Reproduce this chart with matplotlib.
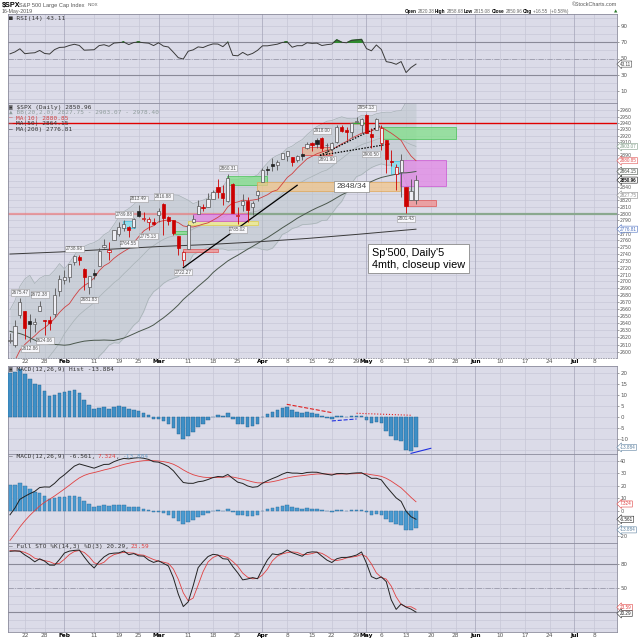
import numpy as np
import pandas as pd
import matplotlib
matplotlib.use("Agg")
import matplotlib.pyplot as plt
from matplotlib.patches import Rectangle
from matplotlib.ticker import NullLocator, NullFormatter

plt.rcParams['font.family'] = ['DejaVu Sans']

#================
# Data
#================

# closes before the visible window (1-Oct-2018 .. 15-Jan-2019), only used to warm up the indicators
warm_close = [2924.59, 2923.43, 2925.51, 2901.61, 2885.57, 2884.43, 2880.34, 2785.68, 2728.37, 2767.13,
              2750.79, 2809.92, 2809.21, 2768.78, 2767.78, 2755.88, 2740.69, 2656.10, 2705.57, 2658.69,
              2641.25, 2682.63, 2711.74, 2740.37, 2723.06, 2738.31, 2755.45, 2813.89, 2806.83, 2781.01,
              2726.22, 2722.18, 2701.58, 2730.20, 2736.27, 2690.73, 2641.89, 2649.93, 2632.56, 2673.45,
              2682.17, 2743.79, 2737.80, 2760.17, 2790.37, 2700.06, 2695.95, 2633.08, 2637.72, 2636.78,
              2651.07, 2650.54, 2599.95, 2545.94, 2546.16, 2506.96, 2467.42, 2416.62, 2351.10, 2467.70,
              2488.83, 2485.74, 2506.85, 2510.03, 2447.89, 2531.94, 2549.69, 2574.41, 2584.96, 2596.64,
              2596.26, 2582.61, 2610.30]
# highs / lows of the last 17 warm-up days (20-Dec .. 15-Jan), for the stochastic
warm_high = [2509.63, 2504.41, 2410.34, 2467.76, 2489.10, 2520.27, 2509.24, 2519.49, 2493.14, 2538.07,
             2566.16, 2579.82, 2595.32, 2597.82, 2596.27, 2589.32, 2613.08]
warm_low = [2441.18, 2408.55, 2351.10, 2346.58, 2397.94, 2472.89, 2482.82, 2467.47, 2443.96, 2474.33,
            2524.56, 2547.56, 2568.89, 2562.02, 2577.40, 2570.41, 2585.10]

# visible daily candles, 16-Jan-2019 .. 15-May-2019
opens = [2614.75, 2609.28, 2651.27, 2657.88, 2643.48, 2638.84, 2657.44, 2644.97, 2644.89, 2653.62,
         2685.49, 2702.32, 2706.49, 2728.34, 2735.05, 2717.53, 2692.36, 2712.40, 2722.61, 2750.30,
         2743.50, 2760.24, 2769.28, 2779.05, 2780.67, 2780.67, 2804.35, 2792.36, 2787.50, 2788.11,
         2798.22, 2814.37, 2794.41, 2790.27, 2766.53, 2730.79, 2747.61, 2787.34, 2799.78, 2810.38,
         2810.79, 2822.61, 2840.76, 2831.34, 2819.72, 2844.52, 2796.01, 2812.66, 2819.72, 2809.40,
         2828.27, 2848.63, 2868.24, 2876.09, 2873.99, 2884.16, 2888.46, 2886.58, 2881.37, 2891.92,
         2900.86, 2908.32, 2912.26, 2916.04, 2904.81, 2898.78, 2909.99, 2934.00, 2928.99, 2925.81,
         2940.58, 2937.14, 2952.33, 2922.16, 2929.21, 2908.89, 2913.03, 2879.61, 2859.84, 2863.10,
         2840.19, 2820.12, 2820.38]
highs = [2625.76, 2645.06, 2675.47, 2657.88, 2653.19, 2647.20, 2672.38, 2644.97, 2650.93, 2690.44,
         2708.95, 2716.66, 2724.99, 2738.98, 2738.08, 2719.32, 2708.07, 2718.05, 2748.19, 2761.85,
         2757.90, 2775.66, 2787.33, 2789.88, 2781.58, 2794.20, 2813.49, 2803.12, 2795.76, 2793.73,
         2808.02, 2816.88, 2796.44, 2790.27, 2767.25, 2744.13, 2784.00, 2798.32, 2821.24, 2815.00,
         2830.73, 2835.41, 2852.42, 2843.54, 2860.31, 2846.16, 2809.79, 2829.87, 2825.56, 2819.71,
         2836.03, 2869.40, 2872.90, 2885.25, 2881.28, 2893.24, 2895.95, 2886.88, 2889.71, 2893.42,
         2910.54, 2909.60, 2916.06, 2918.00, 2908.40, 2909.51, 2936.31, 2936.83, 2933.10, 2939.88,
         2949.52, 2948.22, 2954.13, 2931.68, 2947.85, 2937.32, 2913.03, 2897.96, 2875.97, 2891.31,
         2840.19, 2852.54, 2858.68]
lows = [2612.68, 2606.36, 2647.58, 2617.27, 2612.86, 2627.01, 2657.33, 2624.06, 2631.05, 2648.34,
        2678.65, 2696.88, 2698.75, 2724.03, 2724.15, 2687.26, 2681.83, 2703.79, 2722.61, 2748.63,
        2731.23, 2760.24, 2767.29, 2774.06, 2764.55, 2779.11, 2794.99, 2789.47, 2775.13, 2782.51,
        2787.38, 2767.66, 2782.97, 2768.69, 2739.09, 2722.27, 2747.61, 2786.73, 2799.78, 2803.46,
        2810.79, 2821.99, 2823.27, 2812.43, 2817.38, 2800.47, 2785.02, 2803.99, 2787.72, 2798.77,
        2819.23, 2848.63, 2858.75, 2865.17, 2867.14, 2882.99, 2880.78, 2873.33, 2879.13, 2881.99,
        2898.37, 2896.48, 2900.71, 2895.45, 2891.90, 2896.35, 2908.53, 2926.05, 2912.84, 2917.56,
        2939.35, 2924.11, 2923.36, 2900.50, 2929.21, 2898.21, 2862.60, 2873.28, 2836.40, 2825.39,
        2801.43, 2820.12, 2815.08]
closes = [2616.10, 2635.96, 2670.71, 2632.90, 2638.70, 2642.33, 2664.76, 2643.85, 2640.00, 2681.05,
          2704.10, 2706.53, 2724.87, 2737.70, 2731.61, 2706.05, 2707.88, 2709.80, 2744.73, 2753.03,
          2745.73, 2775.60, 2779.76, 2784.70, 2774.88, 2792.67, 2796.11, 2793.90, 2792.38, 2784.49,
          2803.69, 2792.81, 2789.65, 2771.45, 2748.93, 2743.07, 2783.30, 2791.52, 2810.92, 2808.48,
          2822.48, 2832.94, 2832.57, 2824.23, 2854.88, 2800.71, 2798.36, 2818.46, 2805.37, 2815.44,
          2834.40, 2867.19, 2867.24, 2873.40, 2879.39, 2892.74, 2895.77, 2878.20, 2888.21, 2888.32,
          2907.41, 2905.58, 2907.06, 2900.45, 2905.03, 2907.97, 2933.68, 2927.25, 2926.17, 2939.88,
          2943.03, 2945.83, 2923.73, 2917.52, 2945.64, 2932.47, 2884.05, 2879.42, 2870.72, 2881.40,
          2811.87, 2834.41, 2850.96]

# MA(200) at a few days
ma200_idx = [0, 10, 20, 30, 40, 50, 60, 70, 82]
ma200_val = [2740, 2743, 2747, 2751, 2754, 2758, 2763, 2769, 2776.81]

holidays = ['2019-01-21', '2019-02-18', '2019-04-19', '2019-05-27', '2019-07-04']
tick_dates = ['2019-01-22', '2019-01-28', '2019-02-01', '2019-02-11', '2019-02-19', '2019-02-25',
              '2019-03-01', '2019-03-11', '2019-03-18', '2019-03-25', '2019-04-01', '2019-04-08',
              '2019-04-15', '2019-04-22', '2019-04-29', '2019-05-01', '2019-05-06', '2019-05-13',
              '2019-05-20', '2019-05-28', '2019-06-03', '2019-06-10', '2019-06-17', '2019-06-24',
              '2019-07-01', '2019-07-08']
tick_labels = ['22', '28', 'Feb', '11', '19', '25', 'Mar', '11', '18', '25', 'Apr', '8', '15', '22', '29',
               'May', '6', '13', '20', '28', 'Jun', '10', '17', '24', 'Jul', '8']

# swing high / low labels (candle index)
hi_lab_idx = [2, 6, 13, 23, 26, 31, 44, 63, 72]
lo_lab_idx = [4, 7, 16, 24, 28, 35, 46, 64, 73, 80]

# annotation boxes drawn on the price chart: x from, x to, price lo, price hi, colour
box_x0 = [22.8, 33.0, 34.9, 36.0, 37.0, 43.8, 49.8, 58.9, 75.0, 76.9, 78.8, 79.8]
box_x1 = [25.3, 36.2, 42.1, 50.0, 48.1, 51.9, 78.8, 65.0, 90.0, 79.1, 88.1, 86.1]
box_lo = [2778.6, 2770.0, 2743.0, 2783.5, 2789.1, 2843.0, 2834.0, 2889.6, 2914.7, 2860.4, 2842.3, 2811.7]
box_hi = [2789.0, 2774.8, 2747.5, 2789.0, 2800.2, 2857.0, 2848.0, 2902.6, 2933.8, 2880.4, 2882.0, 2820.7]
box_kind = ['cyan', 'green', 'red', 'yellow', 'magenta', 'green', 'orange', 'tan', 'green', 'cyan',
            'magenta', 'red']

# drawn trend lines on price: (x0, y0, x1, y1)
trend_solid = [(35, 2720, 58, 2843)]
trend_dotted = [(62.6, 2889, 74.7, 2935), (62.6, 2889, 76.8, 2907)]

# drawn lines on the MACD histogram
hist_lines = [(55.9, 5.8, 65, 2.0, '#e02020', '--'), (65, -1.8, 70, -0.9, '#2030e0', '--'),
              (70, 1.7, 81, 0.8, '#e02020', ':'), (81, -16.6, 85, -14.3, '#2030e0', '-')]

#================
# Indicators
#================
n = len(closes)
c_all = pd.Series(warm_close + closes)
ma10 = c_all.rolling(10).mean().values[-n:]
ma50 = c_all.rolling(50).mean().values[-n:]
bb_mid = c_all.rolling(20).mean().values[-n:]
bb_sd = c_all.rolling(20).std(ddof=0).values[-n:]
bb_up = bb_mid + 2 * bb_sd
bb_dn = bb_mid - 2 * bb_sd

delta = c_all.diff()
gain = delta.clip(lower=0).ewm(alpha=1 / 14, adjust=False).mean()
loss = (-delta.clip(upper=0)).ewm(alpha=1 / 14, adjust=False).mean()
rsi = (100 - 100 / (1 + gain / loss)).values[-n:]

ema12 = c_all.ewm(span=12, adjust=False).mean()
ema26 = c_all.ewm(span=26, adjust=False).mean()
macd_s = ema12 - ema26
sig_s = macd_s.ewm(span=9, adjust=False).mean()
macd = macd_s.values[-n:]
sig = sig_s.values[-n:]
hist = macd - sig

h_all = pd.Series(warm_high + highs)
l_all = pd.Series(warm_low + lows)
cs_all = pd.Series(warm_close[-len(warm_high):] + closes)
fastk = 100 * (cs_all - l_all.rolling(14).min()) / (h_all.rolling(14).max() - l_all.rolling(14).min())
slowk = fastk.rolling(3).mean()
pct_d = slowk.rolling(3).mean()
stk = slowk.values[-n:]
std_ = pct_d.values[-n:]

days = pd.bdate_range('2019-01-16', '2019-07-31', freq='C', holidays=holidays)
pos = {d.strftime('%Y-%m-%d'): i for i, d in enumerate(days)}
tick_pos = [pos[d] for d in tick_dates]

x = np.arange(n)
opens = np.array(opens); highs = np.array(highs); lows = np.array(lows); closes = np.array(closes)

#================
# Plot setup
#================
BG = '#dbdbe8'
GRID = '#c6c6d6'
MONTH = '#a4a4b8'
AXC = '#8c8c9c'
X0, X1 = -0.4, 122.6
W = H = 640.0
SANS = 'Liberation Sans'

fig = plt.figure(figsize=(6.4, 6.4), dpi=100)
fig.patch.set_facecolor('white')


def panel(top, bottom):
    ax = fig.add_axes([8 / W, 1 - bottom / H, (617 - 8) / W, (bottom - top) / H])
    ax.set_facecolor(BG)
    ax.set_xlim(X0, X1)
    ax.yaxis.tick_right()
    ax.tick_params(axis='y', labelsize=4, colors='#555555', length=1.5, width=0.4, pad=0.8)
    ax.set_xticks([])
    for s in ax.spines.values():
        s.set_color(AXC)
        s.set_linewidth(0.6)
    for p, lab in zip(tick_pos, tick_labels):
        ax.axvline(p, color=MONTH if lab.isalpha() else GRID, lw=0.5, zorder=0.5)
    return ax


def hgrid(ax, vals):
    for v in vals:
        ax.axhline(v, color=GRID, lw=0.45, zorder=0.4)


def yticks(ax, vals, hide=()):
    ax.set_yticks(list(vals))
    ax.set_yticklabels(['' if v in hide else str(v) for v in vals])


def datelabels(ax):
    ax.set_xticks(tick_pos)
    ax.set_xticklabels(tick_labels)
    ax.tick_params(axis='x', length=0, pad=0.8, labelsize=4.2)
    for t in ax.get_xticklabels():
        if t.get_text().isalpha():
            t.set_fontweight('bold')
            t.set_color('black')
        else:
            t.set_color('#555555')


def valbox(ax, text, color, bold=False, dy=0):
    ax.annotate(text, (1.0, float(text)), xycoords=('axes fraction', 'data'), xytext=(2.2, dy),
                textcoords='offset points', ha='left', va='center', fontsize=3.3, color=color,
                family=SANS, fontweight='bold' if bold else 'normal', annotation_clip=False,
                bbox=dict(boxstyle='larrow,pad=0.12', fc='white', ec=color, lw=0.4), zorder=10)


def ftext(px, py, s, **kw):
    fig.text(px / W, 1 - py / H, s, va='center', **kw)


MONO = 'DejaVu Sans Mono'
CW = 0.602 * 4.4 * 100 / 72   # px per char of the legend font


def legend_line(px, py, parts):
    off = 0
    for s, col in parts:
        if s.strip():
            ftext(px + off * CW, py, s.rstrip(), fontsize=4.4, family=MONO, color=col)
        off += len(s)


#===============
# header
#===============
ftext(1.5, 5, '$SPX', fontsize=5.2, fontweight='bold', color='black', family=SANS)
ftext(19, 5.3, 'S&P 500 Large Cap Index', fontsize=4.1, color='#555555', family=SANS)
ftext(88, 5.5, 'INDX', fontsize=3.2, color='#555555', family=SANS)
ftext(2, 11.8, '16-May-2019', fontsize=3.8, color='#555555', family=SANS)
ftext(617, 4.5, '\u00a9StockCharts.com', fontsize=3.9, color='#555555', ha='right', family=SANS)
hdr = [(405, 'Open', True), (417.5, '2820.38', False), (435, 'High', True), (447, '2858.68', False),
       (464, 'Low', True), (474, '2815.08', False), (492, 'Close', True), (506, '2850.96', False),
       (523, 'Chg', True), (533, '+16.55  (+0.58%)', False)]
for px, s, b in hdr:
    ftext(px, 11.5, s, fontsize=3.3, fontweight='bold' if b else 'normal',
          color='black' if b else '#666666', family=SANS)
ftext(617, 11.5, '\u25b2', fontsize=3.2, color='#2a7a2a', ha='right')

#===============
# RSI
#===============
ax = panel(14, 103)
ax.set_ylim(-4.8, 104.8)
hgrid(ax, range(0, 101, 10))
yticks(ax, [10, 30, 50, 70, 90])
ax.axhline(70, color='#8a8a98', lw=0.8, zorder=1)
ax.axhline(30, color='#8a8a98', lw=0.8, zorder=1)
ax.axhline(50, color='#9a9aaa', lw=0.6, ls='-.', zorder=1)
ax.fill_between(x, rsi, 70, where=rsi > 70, interpolate=True, color='#2e8b2e', zorder=2)
ax.plot(x, rsi, color='#3a3a3a', lw=0.7, zorder=3)
valbox(ax, '43.11', '#444444')
legend_line(9, 18.5, [('\u25a0 RSI(14) 43.11', '#333333')])

#===============
# Price
#===============
ax = panel(103, 358)
ax.set_yscale('log')
ax.set_ylim(2591.2, 2971.5)
pticks = list(range(2600, 2961, 10))
hgrid(ax, pticks)
ax.yaxis.set_minor_locator(NullLocator())
ax.yaxis.set_minor_formatter(NullFormatter())
box_vals = [2903.07, 2880.85, 2864.15, 2850.96, 2827.75, 2776.81]
px_per_ln = 255 / np.log(2971.5 / 2591.2)
hide = [t for t in pticks if min(abs(np.log(t / v)) * px_per_ln for v in box_vals) < 4]
yticks(ax, pticks, hide)
ax.tick_params(axis='y', labelsize=3.4, pad=0.6)
ax.spines['bottom'].set_linestyle((0, (1, 2)))
datelabels(ax)

ax.fill_between(x, bb_dn, bb_up, color='#bcc6cb', alpha=0.55, lw=0, zorder=1)
ax.plot(x, bb_up, color='#a6b1b5', lw=0.5, zorder=1.1)
ax.plot(x, bb_dn, color='#a6b1b5', lw=0.5, zorder=1.1)
ax.plot(x, bb_mid, color='#a8b2b6', lw=0.5, zorder=1.1)

ax.axhline(2940, color='#e00000', lw=1.0, zorder=2.5)
ax.plot([X0, 48], [2800, 2800], color='#ee7070', lw=1.6, alpha=0.6, zorder=1.5)
ax.plot([48, X1], [2800, 2800], color='#8aa88e', lw=1.6, zorder=1.5)
ax.plot([69, 72], [2940, 2940], color='#30b030', lw=1.0, zorder=2.6)

box_style = {'cyan': ('#7fe3f2', '#30bde0'), 'green': ('#82e08a', '#3cc04a'), 'red': ('#f08c8c', '#e04848'),
             'yellow': ('#f4f08a', '#e0cc3a'), 'magenta': ('#e387e6', '#c848d0'),
             'orange': ('#f2c68c', '#e0a24a'), 'tan': ('#e8b090', '#e03434')}
for a, b, lo, hi, k in zip(box_x0, box_x1, box_lo, box_hi, box_kind):
    fc, ec = box_style[k]
    ax.add_patch(Rectangle((a, lo), b - a, hi - lo, fc=fc, ec=ec, lw=0.6, alpha=0.75, zorder=2))

ax.plot(x, ma10, color='#d04040', lw=0.6, zorder=3)
ax.plot(x, ma50, color='#4a574c', lw=0.7, zorder=3)
ax.plot(ma200_idx, ma200_val, color='#3a3a3a', lw=0.7, zorder=3)

for x0_, y0_, x1_, y1_ in trend_solid:
    ax.plot([x0_, x1_], [y0_, y1_], color='black', lw=0.9, zorder=3.5)
for x0_, y0_, x1_, y1_ in trend_dotted:
    ax.plot([x0_, x1_], [y0_, y1_], color='black', lw=0.9, ls=(0, (1.2, 1.2)), zorder=3.5)

prev = np.r_[warm_close[-1], closes[:-1]]
for i in range(n):
    up = closes[i] >= prev[i]
    col = '#222222' if up else '#cc0000'
    ax.vlines(i, lows[i], highs[i], color=col if not up else '#555555', lw=0.6, zorder=4)
    lo_b, hi_b = min(opens[i], closes[i]), max(opens[i], closes[i])
    hi_b = max(hi_b, lo_b + 0.6)
    hollow = closes[i] > opens[i]
    fc = '#eeeef4' if hollow else col
    ec = ('#555555' if up else col) if hollow else col
    ax.add_patch(Rectangle((i - 0.32, lo_b), 0.64, hi_b - lo_b, fc=fc, ec=ec, lw=0.5, zorder=5))

lab_kw = dict(textcoords='offset points', ha='center', fontsize=3.3, color='#555555', zorder=7,
              family=SANS, bbox=dict(boxstyle='square,pad=0.15', fc='#f6f6fa', ec='#9a9a9a', lw=0.4))
for i in hi_lab_idx:
    ax.annotate(f'{highs[i]:.2f}', (i, highs[i]), xytext=(0, 2.5), va='bottom', **lab_kw)
for i in lo_lab_idx:
    ax.annotate(f'{lows[i]:.2f}', (i, lows[i]), xytext=(0, -2.5), va='top', **lab_kw)

ax.text(69, 2841, '2848/34', ha='center', va='center', fontsize=6, color='#444444', zorder=8,
        family=SANS, bbox=dict(boxstyle='square,pad=0.25', fc='white', ec='#8a8a8a', lw=0.5))
fig.text(372 / W, 1 - 258.5 / H, "Sp'500, Daily'5\n4mth, closeup view", ha='left', va='center',
         fontsize=7.8, family=SANS, color='black', linespacing=1.25,
         bbox=dict(boxstyle='square,pad=0.35', fc='white', ec='#8a8a8a', lw=0.6), zorder=9)

valbox(ax, '2903.07', '#7c9a84')
valbox(ax, '2880.85', '#e05050')
valbox(ax, '2864.15', '#404840')
valbox(ax, '2850.96', '#111111', bold=True)
valbox(ax, '2827.75', '#8a8a8a')
valbox(ax, '2776.81', '#4a6ec0')

legend_line(9, 107, [('\u25a3 $SPX (Daily) 2850.96', '#333333')])
legend_line(9, 112.5, [('\u25b2 BB(20,2.0) 2827.75 - 2903.07 - 2978.40', '#8f9c9c')])
legend_line(9, 118.3, [('\u2014 ', '#d04040'), ('MA(10) 2880.85', '#d04040')])
legend_line(9, 124, [('\u2014 ', '#808080'), ('MA(50) 2864.15', '#333333')])
legend_line(9, 129.5, [('\u2014 ', 'black'), ('MA(200) 2776.81', '#333333')])

#===============
# MACD histogram
#===============
ax = panel(366, 454)
ax.set_ylim(-16.9, 23.3)
hgrid(ax, range(-15, 21, 5))
yticks(ax, range(-15, 21, 5), hide=[-15])
ax.bar(x, hist, width=0.72, color='#3f8fc6', edgecolor='#1f5f8e', lw=0.3, zorder=3)
for a, ya, b, yb, col, ls in hist_lines:
    ax.plot([a, b], [ya, yb], color=col, lw=0.8, ls=ls, zorder=4)
valbox(ax, '-13.884', '#5a7f9e')
legend_line(9, 370, [('\u25a3 MACD(12,26,9) Hist -13.884', '#333333')])

#===============
# MACD
#===============
ax = panel(454, 543)
ax.set_ylim(-25.4, 45.2)
hgrid(ax, range(-20, 41, 10))
yticks(ax, range(-20, 41, 10), hide=[-10])
ax.tick_params(axis='y', labelsize=3.6)
ax.bar(x, hist, width=0.72, color='#4a9ad0', edgecolor='#2a6a9a', lw=0.3, zorder=2)
ax.plot(x, sig, color='#e04040', lw=0.6, zorder=3)
ax.plot(x, macd, color='#222222', lw=0.7, zorder=4)
valbox(ax, '7.324', '#e04040', dy=-1.6)
valbox(ax, '-6.561', '#222222')
valbox(ax, '-13.884', '#5a7f9e', dy=-1)
legend_line(9, 456.5, [('\u2014 MACD(12,26,9) -6.561, ', '#333333'), ('7.324', '#e04040'),
                       (', ', '#333333'), ('-13.884', '#6a9ac0')])

#===============
# Full stochastic
#===============
ax = panel(543, 632)
ax.set_ylim(-4.6, 106.6)
hgrid(ax, range(0, 101, 10))
yticks(ax, [20, 50, 80], hide=[20])
ax.axhline(80, color='#8a8a98', lw=0.8, zorder=1)
ax.axhline(20, color='#8a8a98', lw=0.8, zorder=1)
ax.axhline(50, color='#9a9aaa', lw=0.6, ls='-.', zorder=1)
ax.plot(x, std_, color='#e04040', lw=0.6, zorder=3)
ax.plot(x, stk, color='#222222', lw=0.7, zorder=4)
valbox(ax, '23.59', '#e04040', dy=1.5)
valbox(ax, '20.29', '#222222', dy=-1)
datelabels(ax)
legend_line(9, 546.5, [('\u2014 Full STO %K(14,3) %D(3) 20.29, ', '#333333'), ('23.59', '#e04040')])

plt.savefig('out.png', dpi=100, facecolor='white')
